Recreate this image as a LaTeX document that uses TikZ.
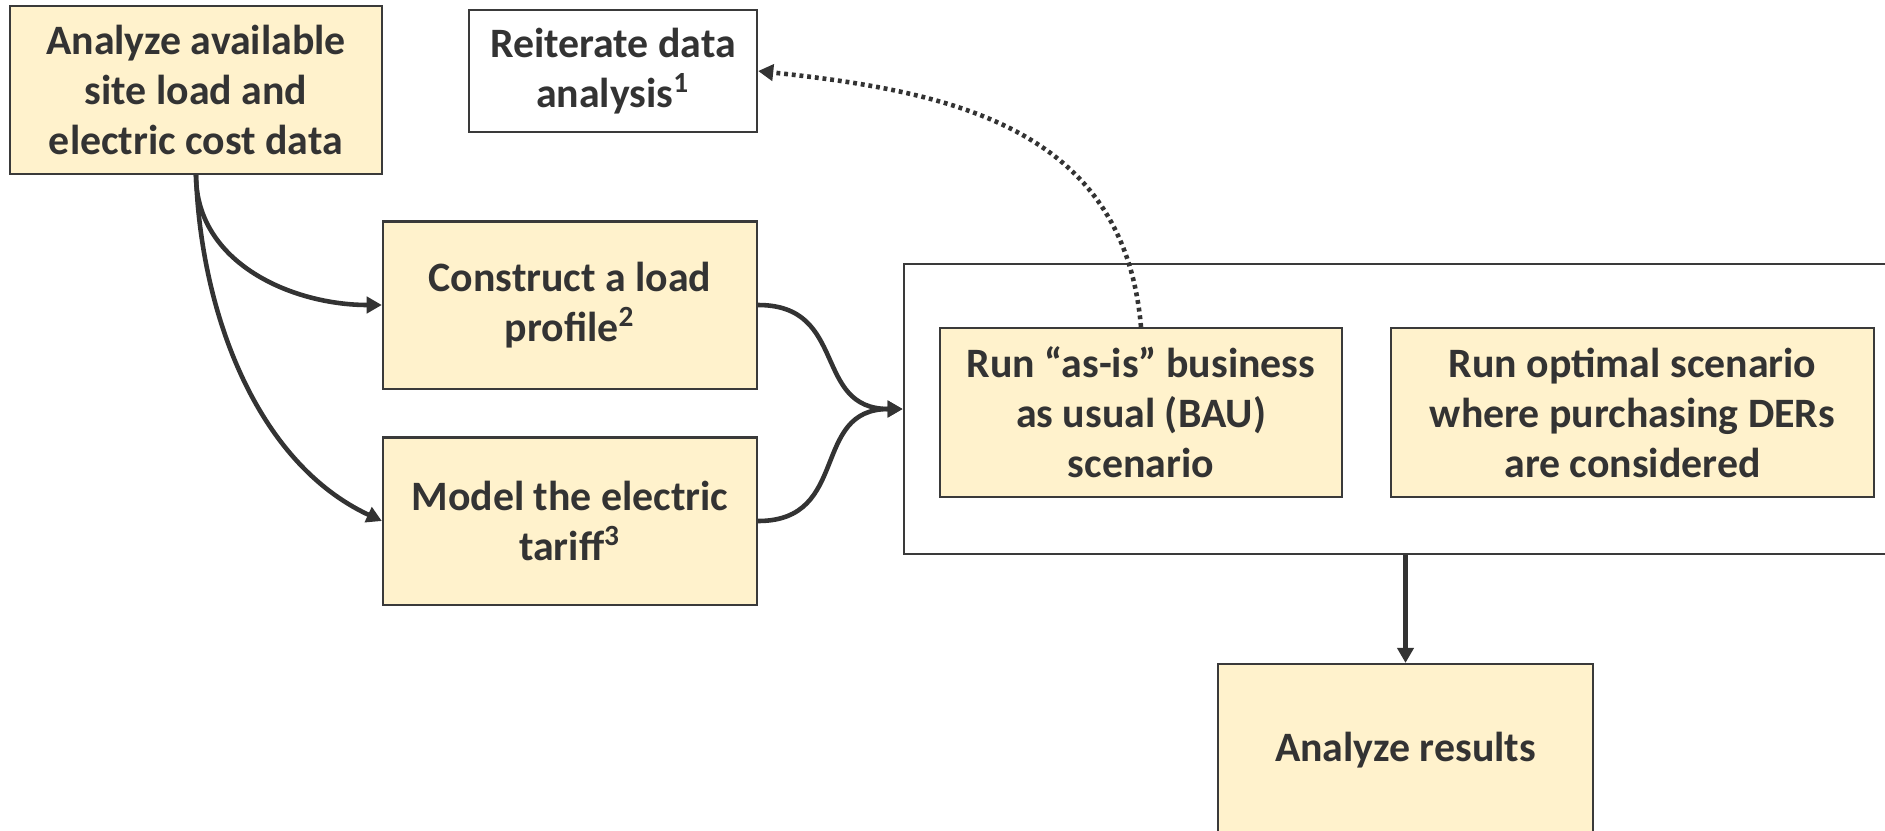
\documentclass[tikz,border=0pt]{standalone}
\usepackage{fontspec}
\setmainfont{Carlito}
\usetikzlibrary{arrows.meta}
\definecolor{boxfill}{HTML}{FFF2CC}
\definecolor{ink}{HTML}{333333}
\definecolor{edge}{HTML}{3A3A3A}
\tikzset{
  box/.style={draw=edge, line width=0.6pt, fill=boxfill, text=ink,
    font=\fontsize{11.9}{14.2}\selectfont\bfseries, align=center, inner sep=0pt},
  whitebox/.style={box, fill=white},
  conn/.style={draw=ink, line width=1.3pt, -{Triangle[length=4.3pt,width=4.6pt]}},
  dotconn/.style={conn, dash pattern=on 1.1pt off 1.1pt}
}
\begin{document}
\begin{tikzpicture}[x=0.01cm,y=-0.01cm]
\useasboundingbox (0,0) rectangle (1885,830);
\clip (0,0) rectangle (1885,830);
\node[box, minimum width=3.72cm, minimum height=1.68cm] (A) at (196,90)
  {Analyze available\\site load and\\electric cost data};
\node[whitebox, minimum width=2.88cm, minimum height=1.22cm] (R) at (613,71)
  {Reiterate data\\analysis\textsuperscript{1}};
\node[box, minimum width=3.74cm, minimum height=1.67cm] (C) at (570,305)
  {Construct a load\\profile\textsuperscript{2}};
\node[box, minimum width=3.74cm, minimum height=1.67cm] (M) at (570,521)
  {Model the electric\\tariff\textsuperscript{3}};
\node[whitebox, minimum width=9.96cm, minimum height=2.89cm] (G) at (1402,409) {};
\node[box, minimum width=4.02cm, minimum height=1.69cm] (B) at (1141,412.5)
  {Run “as-is” business\\as usual (BAU)\\scenario};
\node[box, minimum width=4.83cm, minimum height=1.69cm] (O) at (1632.5,412.5)
  {Run optimal scenario\\where purchasing DERs\\are considered};
\node[box, minimum width=3.75cm, minimum height=1.72cm] (Res) at (1405.5,750)
  {Analyze results};
\draw[conn] (A.south) to[out=-90,in=180,looseness=1] (C.west);
\draw[conn] (A.south) to[out=-88,in=155,looseness=0.9] (M.west);
\draw[conn] (C.east) to[out=0,in=180,looseness=1.3] (G.west);
\draw[conn] (M.east) to[out=0,in=180,looseness=1.3] (G.west);
\draw[dotconn] (B.north) to[out=95,in=-6,looseness=1.1] (R.east);
\draw[conn] (Res.north |- G.south) -- (Res.north);
\end{tikzpicture}
\end{document}
